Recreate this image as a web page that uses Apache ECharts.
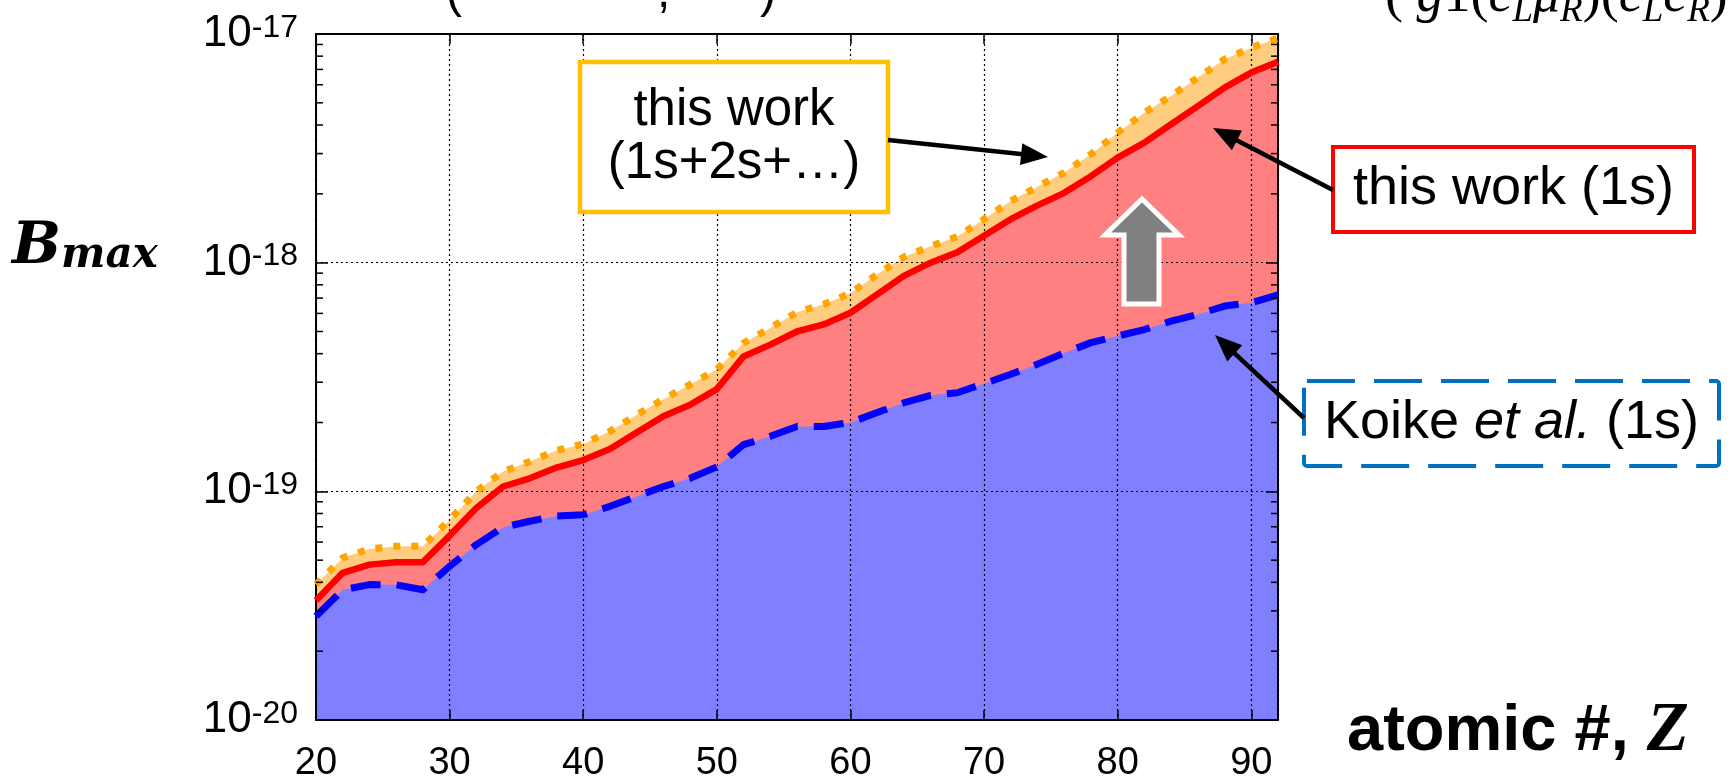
<!DOCTYPE html>
<html>
<head>
<meta charset="utf-8">
<script src="https://cdn.jsdelivr.net/npm/echarts@6/dist/echarts.min.js"></script>
<style>
  html, body { margin: 0; padding: 0; background: #ffffff; }
  #chart { width: 1734px; height: 779px; }
</style>
</head>
<body>
<div id="chart"></div>
<script>
// Atomic numbers (even Z from calcium to uranium)
const atomicNumbers = [20, 22, 24, 26, 28, 30, 32, 34, 36, 38, 40, 42, 44, 46, 48, 50, 52, 54, 56,
  58, 60, 62, 64, 66, 68, 70, 72, 74, 76, 78, 80, 82, 84, 86, 88, 90, 92];

// B_max, this work including all bound states (1s+2s+...)
const bmaxAllShells = [3.91e-20, 5.12e-20, 5.6e-20, 5.75e-20, 5.75e-20, 7.5e-20, 1.0e-19, 1.22e-19, 1.35e-19,
  1.51e-19, 1.61e-19, 1.83e-19, 2.16e-19, 2.53e-19, 2.93e-19, 3.41e-19, 4.45e-19, 5.18e-19, 6.07e-19,
  6.58e-19, 7.35e-19, 8.89e-19, 1.06e-18, 1.18e-18, 1.3e-18, 1.55e-18, 1.86e-18, 2.15e-18, 2.48e-18,
  2.98e-18, 3.7e-18, 4.53e-18, 5.36e-18, 6.45e-18, 7.76e-18, 8.7e-18, 9.6e-18];

// B_max, this work, 1s only
const bmax1s = [3.33e-20, 4.4e-20, 4.78e-20, 4.9e-20, 4.9e-20, 6.4e-20, 8.45e-20, 1.05e-19, 1.14e-19,
  1.27e-19, 1.37e-19, 1.53e-19, 1.81e-19, 2.13e-19, 2.39e-19, 2.8e-19, 3.89e-19, 4.38e-19, 5.0e-19,
  5.37e-19, 6.04e-19, 7.27e-19, 8.75e-19, 1.0e-18, 1.11e-18, 1.31e-18, 1.55e-18, 1.78e-18, 2.02e-18,
  2.39e-18, 2.88e-18, 3.35e-18, 4.03e-18, 4.84e-18, 5.83e-18, 6.78e-18, 7.57e-18];

// B_max, Koike et al., 1s only
const bmaxKoike = [2.84e-20, 3.71e-20, 3.91e-20, 3.9e-20, 3.71e-20, 4.7e-20, 5.85e-20, 6.96e-20, 7.4e-20,
  7.8e-20, 7.9e-20, 8.6e-20, 9.5e-20, 1.05e-19, 1.14e-19, 1.28e-19, 1.6e-19, 1.74e-19, 1.92e-19,
  1.92e-19, 2.0e-19, 2.21e-19, 2.44e-19, 2.63e-19, 2.7e-19, 2.96e-19, 3.25e-19, 3.6e-19, 4.03e-19,
  4.47e-19, 4.78e-19, 5.1e-19, 5.55e-19, 5.94e-19, 6.46e-19, 6.68e-19, 7.23e-19];

// Axis ranges and minor tick mantissas
const zRange = [20, 92];
const bRange = [1e-20, 1e-17];
const decades = [-20, -19, -18];
const minorMantissas = [2, 3, 4, 5, 6, 7, 8, 9];

const SANS = '"Liberation Sans", Arial, Helvetica, sans-serif';
const SERIF = '"Liberation Serif", "Times New Roman", serif';
const WIDE_SERIF = '"DejaVu Serif", "Liberation Serif", serif';

const minorTickValues = [];
decades.forEach(d => minorMantissas.forEach(m => minorTickValues.push(m * Math.pow(10, d))));

function pairs(vals) {
  return atomicNumbers.map((z, i) => [z, vals[i]]);
}

// Straight black annotation arrow with a filled head
function arrow(x1, y1, x2, y2) {
  const a = Math.atan2(y2 - y1, x2 - x1);
  const len = 27, half = 11;
  const bx = x2 - len * Math.cos(a), by = y2 - len * Math.sin(a);
  const nx = -Math.sin(a), ny = Math.cos(a);
  return [
    { type: 'line', z: 100, shape: { x1, y1, x2: bx + 2 * Math.cos(a), y2: by + 2 * Math.sin(a) },
      style: { stroke: '#000', lineWidth: 4.5 } },
    { type: 'polygon', z: 100, shape: { points: [[x2, y2], [bx + nx * half, by + ny * half], [bx - nx * half, by - ny * half]] },
      style: { fill: '#000' } }
  ];
}

const chart = echarts.init(document.getElementById('chart'), null, { renderer: 'canvas' });

const frameLine = { show: true, lineStyle: { color: '#000', width: 2 } };
const dotted = { show: true, lineStyle: { color: '#000', width: 1.2, type: [2, 3] } };

const areaSeries = (name, vals, color, z) => ({
  name, type: 'line', data: pairs(vals), symbol: 'none', silent: true, z,
  lineStyle: { width: 0 }, areaStyle: { color, opacity: 1, origin: 'start' }
});

const lineSeries = (name, vals, color, width, type) => ({
  name, type: 'line', data: pairs(vals), symbol: 'none', silent: true, z: 4,
  lineStyle: { color, width, type, cap: 'butt', join: 'round' }
});

const option = {
  animation: false,
  backgroundColor: '#ffffff',
  grid: { left: 316, right: 456, top: 34, bottom: 59, containLabel: false, outerBoundsMode: 'none' },
  xAxis: [
    {
      type: 'value', min: zRange[0], max: zRange[1], interval: 10, z: 2,
      axisLine: frameLine,
      axisTick: { show: true, inside: true, length: 10, lineStyle: { color: '#000', width: 1.5 } },
      splitLine: dotted,
      axisLabel: { color: '#000', fontFamily: SANS, fontSize: 38, margin: 25, showMaxLabel: false },
      name: '{a|atomic #, }{z|Z}',
      nameLocation: 'end', nameGap: 69,
      nameTextStyle: {
        align: 'left', verticalAlign: 'middle', padding: [24, 0, 0, 0],
        rich: {
          a: { fontFamily: SANS, fontWeight: 'bold', fontSize: 65, color: '#000' },
          z: { fontFamily: SERIF, fontWeight: 'bold', fontStyle: 'italic', fontSize: 69, color: '#000' }
        }
      }
    },
    {
      type: 'value', position: 'top', min: zRange[0], max: zRange[1], interval: 10, z: 2,
      axisLine: frameLine,
      axisTick: { show: true, inside: true, length: 10, lineStyle: { color: '#000', width: 1.5 } },
      splitLine: { show: false }, axisLabel: { show: false }
    }
  ],
  yAxis: [
    {
      type: 'log', logBase: 10, min: bRange[0], max: bRange[1], splitNumber: 3, z: 2,
      axisLine: frameLine,
      axisTick: { show: true, inside: true, length: 12, lineStyle: { color: '#000', width: 1.5 } },
      splitLine: dotted,
      axisLabel: {
        margin: 18, fontFamily: SANS, fontSize: 44, color: '#000',
        formatter: v => '{base|10}{sup|' + Math.round(Math.log10(v)) + '}',
        rich: {
          base: { fontFamily: SANS, fontSize: 44, color: '#000', lineHeight: 44, padding: [14, 0, 0, 0], verticalAlign: 'bottom' },
          sup: { fontFamily: SANS, fontSize: 32, color: '#000', lineHeight: 32, verticalAlign: 'top' }
        }
      }
    },
    {
      type: 'log', logBase: 10, min: bRange[0], max: bRange[1], splitNumber: 3, position: 'right', z: 2,
      axisLine: frameLine,
      axisTick: { show: true, inside: true, length: 12, lineStyle: { color: '#000', width: 1.5 } },
      splitLine: { show: false }, axisLabel: { show: false }
    }
  ],
  series: [
    areaSeries('this work (1s+2s+…) area', bmaxAllShells, '#ffcd80', 1),
    areaSeries('this work (1s) area', bmax1s, '#ff8080', 1),
    areaSeries('Koike et al. (1s) area', bmaxKoike, '#8080ff', 1),
    lineSeries('this work (1s+2s+…)', bmaxAllShells, '#ffa500', 7, [7, 11]),
    lineSeries('this work (1s)', bmax1s, '#ff0000', 6.5, 'solid'),
    lineSeries('Koike et al. (1s)', bmaxKoike, '#0000ff', 7, [30, 16]),
    {
      // minor log ticks on the left and right frame edges
      type: 'custom', coordinateSystem: 'cartesian2d', silent: true, z: 6,
      data: minorTickValues.map(v => [zRange[0], v]),
      renderItem: (params, api) => {
        const v = api.value(1);
        const l = api.coord([zRange[0], v]);
        const r = api.coord([zRange[1], v]);
        return {
          type: 'group',
          children: [
            { type: 'line', shape: { x1: l[0], y1: l[1], x2: l[0] + 7, y2: l[1] }, style: { stroke: '#000', lineWidth: 1.5 } },
            { type: 'line', shape: { x1: r[0] - 7, y1: r[1], x2: r[0], y2: r[1] }, style: { stroke: '#000', lineWidth: 1.5 } }
          ]
        };
      }
    }
  ],
  graphic: [
    // y axis title
    {
      type: 'text', left: 12, top: 203, z: 100,
      style: {
        text: '{b|B}{m|max}',
        rich: {
          b: { fontFamily: WIDE_SERIF, fontWeight: 'bold', fontStyle: 'italic', fontSize: 58, lineHeight: 58, verticalAlign: 'top', fill: '#000' },
          m: { fontFamily: WIDE_SERIF, fontWeight: 'bold', fontStyle: 'italic', fontSize: 42, lineHeight: 42, verticalAlign: 'bottom', padding: [32, 0, 0, 0], fill: '#000' }
        }
      }
    },
    // formula fragments above the plot
    { type: 'text', x: 446, y: -6, z: 100, style: { text: '(', font: '48px ' + SANS, fill: '#000', align: 'left', verticalAlign: 'middle' } },
    { type: 'text', x: 657, y: -6, z: 100, style: { text: ',', font: '48px ' + SANS, fill: '#000', align: 'left', verticalAlign: 'middle' } },
    { type: 'text', x: 760, y: -6, z: 100, style: { text: ')', font: '48px ' + SANS, fill: '#000', align: 'left', verticalAlign: 'middle' } },
    {
      type: 'text', x: 1385, y: -30, z: 100,
      style: {
        text: '{p|( }{i|g}{p|1}{p|(}{i|e}{s|L}{i|μ}{s|R}{p|)(}{i|e}{s|L}{i|e}{s|R}{p|)}',
        align: 'left', verticalAlign: 'top',
        rich: {
          p: { fontFamily: SERIF, fontSize: 54, lineHeight: 60, verticalAlign: 'top', fill: '#000' },
          i: { fontFamily: SERIF, fontStyle: 'italic', fontSize: 54, lineHeight: 60, verticalAlign: 'top', fill: '#000' },
          s: { fontFamily: SERIF, fontStyle: 'italic', fontSize: 37, lineHeight: 37, verticalAlign: 'bottom', fill: '#000' }
        }
      }
    },
    // "this work (1s+2s+...)" box
    { type: 'rect', z: 100, shape: { x: 580, y: 62, width: 308, height: 150 }, style: { fill: '#fff', stroke: '#ffc000', lineWidth: 4.5 } },
    { type: 'text', x: 734, y: 137, z: 101, style: { text: 'this work\n(1s+2s+…)', font: '51px ' + SANS, lineHeight: 53, fill: '#000', align: 'center', verticalAlign: 'middle' } },
    // "this work (1s)" box
    { type: 'rect', z: 100, shape: { x: 1333, y: 147, width: 361, height: 85 }, style: { fill: '#fff', stroke: '#ff0000', lineWidth: 4 } },
    { type: 'text', x: 1513.5, y: 189.5, z: 101, style: { text: 'this work (1s)', font: '54px ' + SANS, fill: '#000', align: 'center', verticalAlign: 'middle' } },
    // "Koike et al. (1s)" box
    { type: 'rect', z: 100, shape: { x: 1304, y: 381, width: 415, height: 85, r: 3 }, style: { fill: '#fff', stroke: '#0070c0', lineWidth: 4, lineDash: [48, 19] } },
    {
      type: 'text', x: 1511.5, y: 423, z: 101,
      style: {
        text: '{n|Koike }{i|et al.}{n| (1s)}', align: 'center', verticalAlign: 'middle',
        rich: {
          n: { fontFamily: SANS, fontSize: 54, fill: '#000' },
          i: { fontFamily: SANS, fontStyle: 'italic', fontSize: 54, fill: '#000' }
        }
      }
    },
    // upward gray arrow
    {
      type: 'polygon', z: 100,
      shape: { points: [[1142, 199], [1179, 235], [1159, 235], [1159, 304], [1124, 304], [1124, 235], [1105, 235]] },
      style: { fill: '#808080', stroke: '#ffffff', lineWidth: 5, lineJoin: 'miter' }
    },
    ...arrow(888, 140, 1048, 157),
    ...arrow(1333, 190, 1213, 128),
    ...arrow(1304, 418, 1215, 335)
  ]
};

chart.setOption(option);
</script>
</body>
</html>
